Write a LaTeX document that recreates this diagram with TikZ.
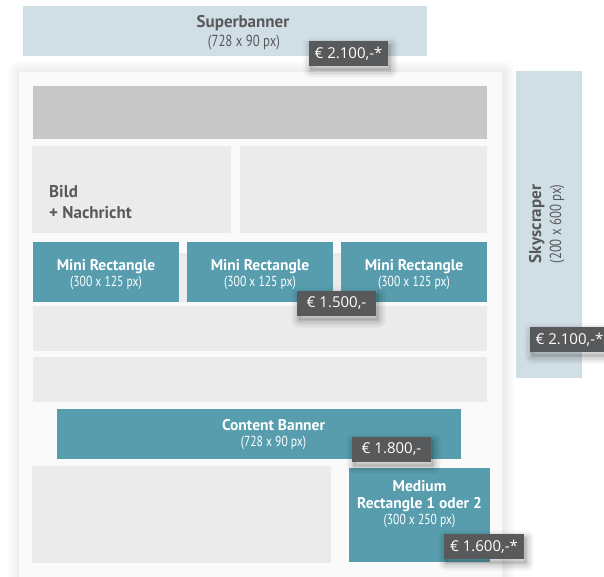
\documentclass[tikz,border=0pt]{standalone}
\usepackage{fontspec}
\setmainfont{PT Sans}
\newfontfamily\condfont[FakeStretch=0.8]{PT Sans}
\newfontfamily\tagfont{Open Sans}
\definecolor{bannerc}{HTML}{D0DEE5}
\definecolor{pagec}{HTML}{FAFAFA}
\definecolor{topc}{HTML}{C6C7C6}
\definecolor{lightc}{HTML}{EBEBEB}
\definecolor{tealc}{HTML}{579DAE}
\definecolor{tagc}{HTML}{58595B}
\definecolor{darktext}{HTML}{58595B}
\tikzset{
  area/.style={inner sep=0pt, outer sep=0pt, draw=none},
  shadowlayer/.style 2 args={preaction={draw=black, draw opacity=#2, line width=#1, line join=round,
      transform canvas={xshift=2pt, yshift=-4pt}}},
  tagshadow/.style={
    shadowlayer={16pt}{0.025}, shadowlayer={13pt}{0.03}, shadowlayer={10pt}{0.035},
    shadowlayer={7pt}{0.04}, shadowlayer={4pt}{0.05}, shadowlayer={1.5pt}{0.05},
    preaction={fill=black, fill opacity=0.08, transform canvas={xshift=2pt, yshift=-4pt}}},
  pagelayer/.style={preaction={draw=black, draw opacity=0.012, line width=#1, line join=round,
      transform canvas={xshift=1pt, yshift=-1pt}}},
  pageshadow/.style={pagelayer=24pt, pagelayer=20pt, pagelayer=16pt, pagelayer=12pt,
      pagelayer=8pt, pagelayer=4pt},
  tag/.style={fill=tagc, text=white, font=\tagfont\fontsize{15}{18}\selectfont,
    minimum width=79pt, minimum height=25pt, inner sep=0pt, tagshadow},
  boldlbl/.style={anchor=base, inner sep=0pt, font=\bfseries\fontsize{15.5}{18}\selectfont},
  biglbl/.style={anchor=base, inner sep=0pt, font=\bfseries\fontsize{17}{20}\selectfont},
  condlbl/.style={anchor=base, inner sep=0pt, font=\condfont\fontsize{14.5}{17}\selectfont},
  bigcond/.style={anchor=base, inner sep=0pt, font=\condfont\fontsize{16}{19}\selectfont},
}
\begin{document}
\begin{tikzpicture}[x=1pt, y=-1pt]
\useasboundingbox (0,0) rectangle (604,576);
\fill[white] (0,0) rectangle (604,576);
% Superbanner
\node[area, fill=bannerc, minimum width=404pt, minimum height=50pt] (superbanner) at (225,31) {};
\node[biglbl, text=darktext] (sbT1) at (243,27) {Superbanner};
\node[bigcond, text=darktext] (sbT2) at (244,46.5) {(728 x 90 px)};
% Main page
\node[area, fill=pagec, minimum width=483pt, minimum height=528pt, pageshadow] (page) at (260.5,336) {};
% Skyscraper
\node[area, fill=bannerc, minimum width=66pt, minimum height=307pt] (sky) at (549,224.5) {};
\node[biglbl, text=darktext, rotate=90] (skyT1) at (541,224) {Skyscraper};
\node[bigcond, text=darktext, rotate=90] (skyT2) at (561,224) {(200 x 600 px)};
% Top bar
\node[area, fill=topc, minimum width=454pt, minimum height=53pt] (topbar) at (260,112.5) {};
% Bild + Nachricht
\node[area, fill=lightc, minimum width=199pt, minimum height=87pt] (bild) at (131.5,189.5) {};
\node[area, fill=lightc, minimum width=247pt, minimum height=87pt] (nachr) at (363.5,189.5) {};
\node[biglbl, anchor=base west, text=darktext] (bildT1) at (49,197) {Bild};
\node[biglbl, anchor=base west, text=darktext] (bildT2) at (49,218.5) {+ Nachricht};
% Mini rectangles row
\node[area, fill=lightc, minimum width=454pt, minimum height=49pt] (miniband) at (260,277.5) {};
\node[area, fill=tealc, minimum width=146pt, minimum height=60pt] (mini1) at (106,272) {};
\node[area, fill=tealc, minimum width=146pt, minimum height=60pt] (mini2) at (260,272) {};
\node[area, fill=tealc, minimum width=146pt, minimum height=60pt] (mini3) at (414,272) {};
\foreach \n/\x in {1/106, 2/260, 3/414} {
  \node[boldlbl, text=white] (miniT\n a) at (\x,270) {Mini Rectangle};
  \node[condlbl, text=white] (miniT\n b) at (\x,286.5) {(300 x 125 px)};
}
% Gray rows
\node[area, fill=lightc, minimum width=454pt, minimum height=45pt] (row2) at (260,328.5) {};
\node[area, fill=lightc, minimum width=454pt, minimum height=45pt] (row3) at (260,379.5) {};
% Content banner
\node[area, fill=tealc, minimum width=404pt, minimum height=50pt] (content) at (259,434) {};
\node[boldlbl, text=white] (contentT1) at (273.5,430) {Content Banner};
\node[condlbl, text=white] (contentT2) at (273.5,446) {(728 x 90 px)};
% Lower area
\node[area, fill=lightc, minimum width=299pt, minimum height=97pt] (lowleft) at (181.5,514.5) {};
\node[area, fill=tealc, minimum width=141pt, minimum height=94pt] (medium) at (419.5,515) {};
\node[boldlbl, text=white] (medT1) at (419.5,491) {Medium};
\node[boldlbl, text=white] (medT2) at (419.5,508) {Rectangle 1 oder 2};
\node[condlbl, text=white] (medT3) at (419.5,524.5) {(300 x 250 px)};
% Price tags
\node[tag] (p1) at (348.5,53.5) {€ 2.100,-*};
\node[tag] (p2) at (336.5,303.5) {€ 1.500,-};
\node[tag] (p3) at (569.5,339.5) {€ 2.100,-*};
\node[tag] (p4) at (391.5,449.5) {€ 1.800,-};
\node[tag, minimum width=80pt] (p5) at (484,546.5) {€ 1.600,-*};
\end{tikzpicture}
\end{document}
